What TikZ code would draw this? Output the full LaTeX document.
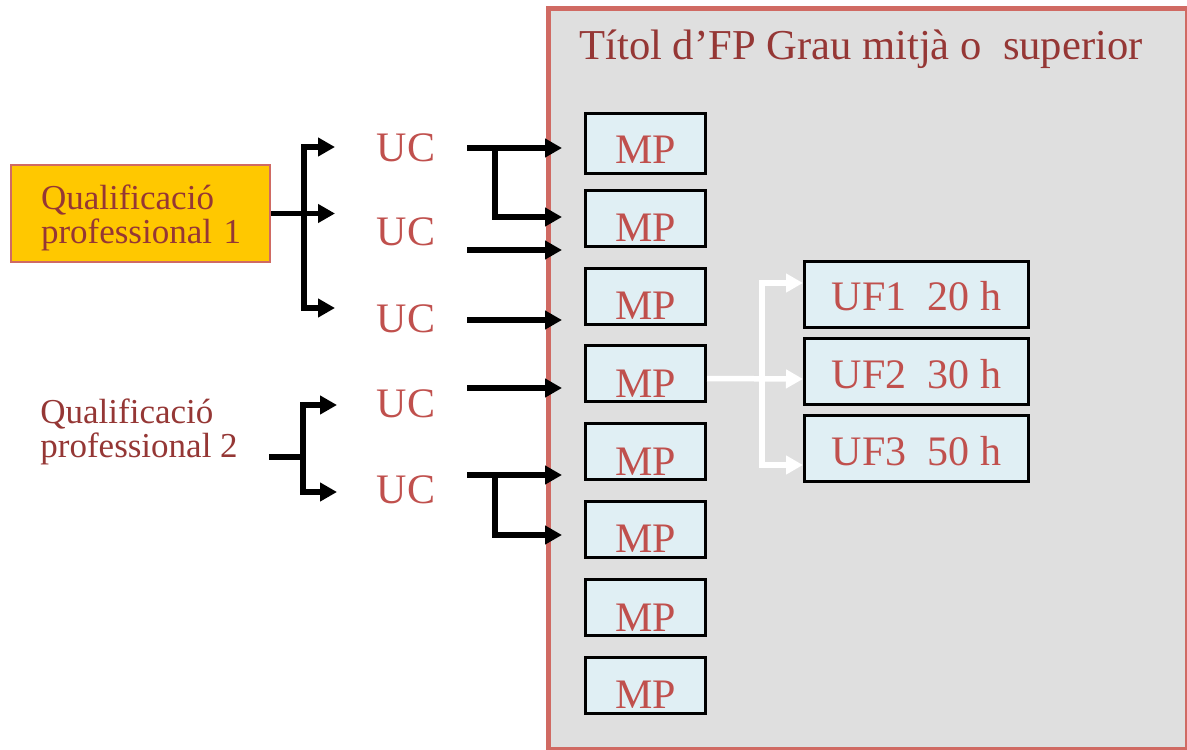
\documentclass[tikz,border=0pt]{standalone}
\usepackage{fontspec}
\setmainfont{Liberation Serif}
\usetikzlibrary{arrows.meta}
\definecolor{txtred}{RGB}{192,80,77}
\definecolor{darkred}{RGB}{149,55,53}
\definecolor{bordred}{RGB}{208,106,99}
\definecolor{gold}{RGB}{255,200,0}
\definecolor{mpfill}{RGB}{224,239,244}
\definecolor{panel}{RGB}{223,223,223}
\begin{document}
\begin{tikzpicture}[x=0.5pt,y=-0.5pt,
  bigtxt/.style={font=\fontsize{21}{25}\selectfont},
  qtxt/.style={font=\fontsize{17.5}{17}\selectfont, text=darkred},
  mpbox/.style={draw=black, line width=1.5pt, fill=mpfill, text=txtred, bigtxt,
    minimum width=60pt, minimum height=28pt, inner xsep=0pt, inner ysep=0pt,
    text height=25.75pt, text depth=2.25pt},
  ufbox/.style={draw=black, line width=1.5pt, fill=mpfill, text=txtred, bigtxt,
    minimum width=112pt, minimum height=33pt, inner xsep=0pt, inner ysep=0pt,
    text height=24.75pt, text depth=8.25pt},
  uctxt/.style={bigtxt, text=txtred, inner sep=0pt, anchor=base},
  barr/.style={draw=black, line width=2.75pt, -{Triangle[length=8.5pt,width=9pt]}},
  bline/.style={draw=black, line width=2.75pt},
  warr/.style={draw=white, line width=2.75pt, -{Triangle[length=8.5pt,width=9pt]}}
]
\useasboundingbox (0,0) rectangle (1187,749);

% panel
\path[fill=panel, draw=bordred, line width=2.5pt] (548.5,9) rectangle (1187.5,749.5);
\node[font=\fontsize{21.3}{25}\selectfont, text=darkred, anchor=base west, inner sep=0pt] (title) at (579,60) {Títol d’FP Grau mitjà o \ superior};

% MP boxes
\node[mpbox, minimum height=30pt, text height=25.25pt, text depth=4.75pt] (mp1) at (645.5,143.3) {MP};
\node[mpbox] (mp2) at (645.5,218) {MP};
\node[mpbox] (mp3) at (645.5,296) {MP};
\node[mpbox] (mp4) at (645.5,373.5) {MP};
\node[mpbox] (mp5) at (645.5,451.5) {MP};
\node[mpbox] (mp6) at (645.5,529) {MP};
\node[mpbox] (mp7) at (645.5,607.5) {MP};
\node[mpbox] (mp8) at (645.5,685) {MP};

% UF boxes
\node[ufbox] (uf1) at (916.5,294) {UF1 \ 20 h};
\node[ufbox] (uf2) at (916.5,371.5) {UF2 \ 30 h};
\node[ufbox] (uf3) at (916.5,448.5) {UF3 \ 50 h};

% white arrows
\coordinate (wj) at (762,379);
\coordinate (w1) at (803,283);
\coordinate (w2) at (803,379);
\coordinate (w3) at (803,465);
\draw[warr] ([yshift=-2.5pt]mp4.east) -- (w2);
\draw[warr] (wj) |- (w1);
\draw[warr] (wj) |- (w3);

% qualifications
\node[draw=bordred, line width=1pt, fill=gold, minimum width=129.5pt, minimum height=48.5pt,
  qtxt, align=left, anchor=west, inner xsep=5pt, text width=119.5pt] (qp1) at (10,213.5)
  {\hspace*{10pt}\rule{0pt}{17pt}Qualificació\\\hspace*{10pt}professional 1};
\node[qtxt, align=left, anchor=base west, inner sep=0pt] (qp2) at (40,457)
  {Qualificació\\professional 2};

% UC labels
\node[uctxt] (uc1) at (406,161) {UC};
\node[uctxt] (uc2) at (406,245) {UC};
\node[uctxt] (uc3) at (406,332) {UC};
\node[uctxt] (uc4) at (406,417) {UC};
\node[uctxt] (uc5) at (406,503) {UC};

% QP1 arrows
\coordinate (j1) at (304,213.5);
\coordinate (t1) at (335,147);
\coordinate (t2) at (335,213.5);
\coordinate (t3) at (335,308);
\draw[barr] (qp1.east) -- (t2);
\draw[barr] (j1) |- (t1);
\draw[barr] (j1) |- (t3);

% QP2 arrows
\coordinate (s2) at (269,457);
\coordinate (j2) at (303,457);
\coordinate (t4) at (337,405);
\coordinate (t5) at (337,492);
\draw[bline] (s2) -- (j2);
\draw[barr] (j2) |- (t4);
\draw[barr] (j2) |- (t5);

% UC -> MP arrows
\coordinate (a1) at (467,148);
\coordinate (b1) at (495,148);
\coordinate (e1) at (562,148);
\coordinate (e2) at (562,217);
\coordinate (a2) at (467,250);
\coordinate (e3) at (562,250);
\coordinate (a3) at (467,320);
\coordinate (e4) at (562,320);
\coordinate (a4) at (467,388);
\coordinate (e5) at (562,388);
\coordinate (a5) at (467,475);
\coordinate (b5) at (495,475);
\coordinate (e6) at (562,475);
\coordinate (e7) at (562,535);
\draw[barr] (a1) -- (e1);
\draw[barr] (b1) |- (e2);
\draw[barr] (a2) -- (e3);
\draw[barr] (a3) -- (e4);
\draw[barr] (a4) -- (e5);
\draw[barr] (a5) -- (e6);
\draw[barr] (b5) |- (e7);
\end{tikzpicture}
\end{document}
